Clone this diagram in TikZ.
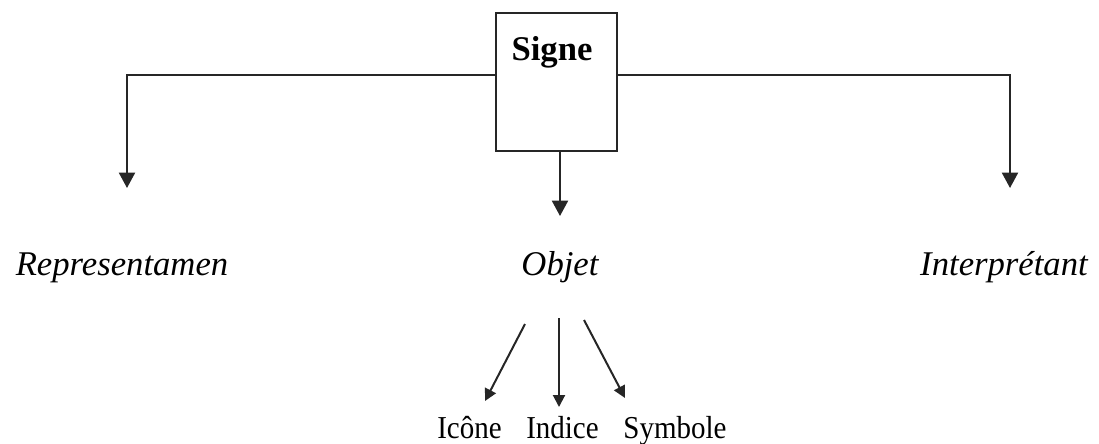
\documentclass[tikz,border=0pt]{standalone}
\usepackage{fontspec}
\setmainfont{Liberation Serif}
\usetikzlibrary{arrows.meta}
\tikzset{
  conn/.style={line width=1.5pt, draw=black!85},
  bigarr/.style={conn, -{Triangle[width=12pt,length=11.5pt]}},
  smallarr/.style={conn, -{Triangle[width=9pt,length=9pt]}},
  boxstyle/.style={draw=black!85, line width=1.5pt, minimum width=90.75pt, minimum height=103.5pt, inner sep=0pt},
  main/.style={font=\fontsize{26}{30}\selectfont\itshape, anchor=base, inner sep=0pt},
  sub/.style={font=\fontsize{21.75}{26}\selectfont, anchor=base, inner sep=0pt, yscale=1.1},
}
\begin{document}
\begin{tikzpicture}[x=0.75pt,y=-0.75pt]
\useasboundingbox (0,0) rectangle (1099,443);
% Signe box
\node[boxstyle] (signe) at (556.5,82) {};
\node[font=\fontsize{26}{30}\selectfont\bfseries, anchor=base, inner sep=0pt] (signetxt) at (552,60) {Signe};
% coordinates
\coordinate (hy) at (0,75);
\coordinate (repTip) at (127,188);
\coordinate (intTip) at (1010,188);
\coordinate (objStart) at (560,151);
\coordinate (objTip) at (560,216);
% labels
\node[main] (rep) at (122,275) {Representamen};
\node[main] (obj) at (560,275) {Objet};
\node[main] (int) at (1004,275) {Interprétant};
% main connectors
\draw[bigarr] (signe.west |- hy) -| (repTip);
\draw[bigarr] (signe.east |- hy) -| (intTip);
\draw[bigarr] (objStart) -- (objTip);
% sub labels
\node[sub] (ico) at (469.5,438) {Icône};
\node[sub] (ind) at (562.5,438) {Indice};
\node[sub] (sym) at (675,438) {Symbole};
% sub arrows
\coordinate (a1s) at (525,324); \coordinate (a1e) at (485,401);
\coordinate (a2s) at (559,318); \coordinate (a2e) at (559,407);
\coordinate (a3s) at (584,320); \coordinate (a3e) at (625,398);
\draw[smallarr] (a1s) -- (a1e);
\draw[smallarr] (a2s) -- (a2e);
\draw[smallarr] (a3s) -- (a3e);
\end{tikzpicture}
\end{document}
